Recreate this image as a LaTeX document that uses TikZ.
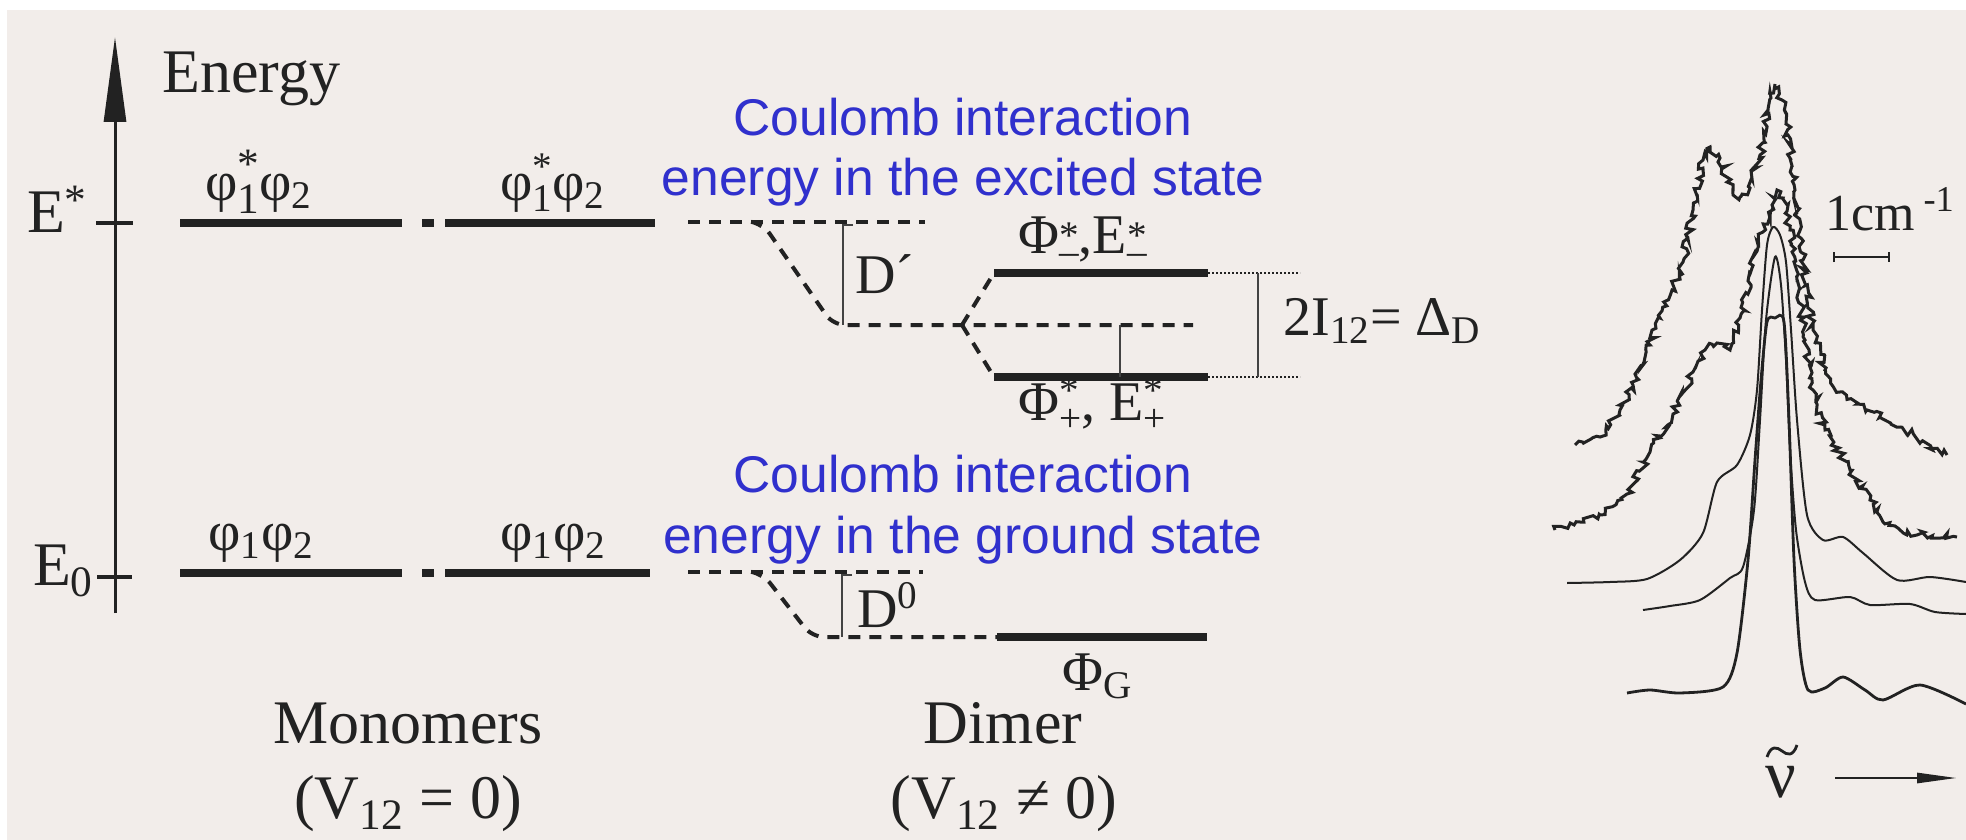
\documentclass[tikz,border=0pt]{standalone}
\usepackage{fontspec}
\setmainfont{Liberation Serif}
\newfontfamily\bluesans{Liberation Sans}
\usetikzlibrary{arrows.meta,decorations.pathmorphing}
\definecolor{bg}{HTML}{F2EDEA}
\definecolor{ink}{HTML}{222222}
\definecolor{annot}{RGB}{48,48,205}
\makeatletter
\newcommand\mysupsub[2]{{\fontsize\sf@size\z@\selectfont\raisebox{-0.3em}{\shortstack[l]{#1\\#2}}}}
\makeatother
\tikzset{
  lvl/.style={line width=4pt, draw=ink},
  dashlvl/.style={line width=2pt, draw=ink, dash pattern=on 6pt off 4.5pt},
  thinl/.style={line width=1.1pt, draw=ink!85},
  ext/.style={line width=0.9pt, draw=ink, dash pattern=on 1.2pt off 0.8pt},
  lbl/.style={inner sep=0pt, text=ink},
  big/.style={font=\fontsize{31}{37}\selectfont},
  mid/.style={font=\fontsize{28}{34}\selectfont},
  sml/.style={font=\fontsize{26}{31}\selectfont},
  note/.style={inner sep=0pt, text=annot, font=\bluesans\fontsize{25.8}{31}\selectfont},
  noisy/.style={line width=1.5pt, draw=ink, decorate, decoration={random steps, segment length=1.8pt, amplitude=2pt}},
  spec/.style={line width=1pt, draw=ink},
}
\begin{document}
\begin{tikzpicture}[x=0.5pt,y=-0.5pt]
\pgfmathsetseed{4242}
\useasboundingbox (0,0) rectangle (1966,840);
\fill[bg] (0,0) rectangle (1966,840);
\fill[white] (0,0) rectangle (1966,10);
\fill[white] (0,0) rectangle (7,840);

% energy axis
\coordinate (ax0) at (115,613);
\coordinate (ax1) at (115,37);
\draw[line width=1.5pt, draw=ink, -{Triangle[length=42.5pt,width=11pt]}] (ax0) -- (ax1);
\coordinate (tEa) at (96,223); \coordinate (tEb) at (133,223);
\coordinate (tGa) at (97,577); \coordinate (tGb) at (132,577);
\draw[line width=2pt, draw=ink] (tEa) -- (tEb);
\draw[line width=2pt, draw=ink] (tGa) -- (tGb);
\node[lbl, big, anchor=base east] (Estar) at (88,233) {E\textsuperscript{*}};
\node[lbl, big, anchor=base east] (Ezero) at (94,585) {E\textsubscript{0}};
\node[lbl, big, anchor=base west] (energy) at (162,93) {Energy};

% monomer levels, excited
\coordinate (e1a) at (180,223); \coordinate (e1b) at (402,223);
\coordinate (e1c) at (422,223); \coordinate (e1d) at (434,223);
\coordinate (e2a) at (445,223); \coordinate (e2b) at (655,223);
\draw[lvl] (e1a) -- (e1b);
\draw[lvl] (e1c) -- (e1d);
\draw[lvl] (e2a) -- (e2b);
\node[lbl, mid, anchor=base] (le1) at (259,200) {φ\mysupsub{*}{1}φ\textsubscript{2}};
\node[lbl, mid, anchor=base] (le2) at (553,200) {φ\mysupsub{*}{1}φ\textsubscript{2}};

% monomer levels, ground
\coordinate (g1a) at (180,573); \coordinate (g1b) at (402,573);
\coordinate (g1c) at (422,573); \coordinate (g1d) at (434,573);
\coordinate (g2a) at (445,573); \coordinate (g2b) at (650,573);
\draw[lvl] (g1a) -- (g1b);
\draw[lvl] (g1c) -- (g1d);
\draw[lvl] (g2a) -- (g2b);
\node[lbl, mid, anchor=base] (lg1) at (261,550) {φ\textsubscript{1}φ\textsubscript{2}};
\node[lbl, mid, anchor=base] (lg2) at (553,550) {φ\textsubscript{1}φ\textsubscript{2}};

% excited state dimer
\coordinate (xa) at (688,222); \coordinate (xb) at (925,222);
\coordinate (xk) at (752,222); \coordinate (xd) at (833,325);
\coordinate (xm) at (1193,325); \coordinate (xc) at (962,325);
\coordinate (up) at (994,273); \coordinate (upe) at (1208,273); \coordinate (upx) at (1300,273);
\coordinate (lo) at (994,377); \coordinate (loe) at (1208,377); \coordinate (lox) at (1300,377);
\draw[dashlvl] (xa) -- (xb);
\draw[dashlvl, rounded corners=6pt] (xk) -- (763,224) -- (xd) -- (xm);
\draw[dashlvl] (xc) -- (up);
\draw[dashlvl] (xc) -- (lo);
\draw[lvl] (up) -- (upe);
\draw[lvl] (lo) -- (loe);
\draw[ext] (upe) -- (upx);
\draw[ext] (loe) -- (lox);
\draw[thinl] (1258,273) -- (1258,377);
\draw[thinl] (1120,325) -- (1120,377);
\draw[thinl] (853,225) -- (843,225) -- (843,325);
\node[lbl, mid, anchor=base west] (Dp) at (855,293) {D´};
\node[lbl, mid, anchor=base west] (Pm) at (1018,253) {Φ\mysupsub{*}{–},E\mysupsub{*}{–}};
\node[lbl, mid, anchor=base west] (Pp) at (1018,420) {Φ\mysupsub{*}{+}, E\mysupsub{*}{+}};
\node[lbl, mid, anchor=base west] (split) at (1283,335) {2I\textsubscript{12}= Δ\textsubscript{D}};

% ground state dimer
\coordinate (ga) at (688,572); \coordinate (gb) at (923,572);
\coordinate (gk) at (752,572); \coordinate (gd) at (812,637);
\coordinate (gG) at (997,637); \coordinate (gGe) at (1207,637);
\draw[dashlvl] (ga) -- (gb);
\draw[dashlvl, rounded corners=6pt] (gk) -- (763,574) -- (gd) -- (gG);
\draw[lvl] (gG) -- (gGe);
\draw[thinl] (852,575) -- (842,575) -- (842,637);
\node[lbl, mid, anchor=base west] (D0) at (857,627) {D\textsuperscript{0}};
\node[lbl, mid, anchor=base west] (PG) at (1062,690) {Φ\textsubscript{G}};

% bottom captions
\node[lbl, big, anchor=base] (mono) at (408,743) {Monomers};
\node[lbl, big, anchor=base] (monov) at (408,818) {(V\textsubscript{12} = 0)};
\node[lbl, big, anchor=base] (dim) at (1003,743) {Dimer};
\node[lbl, big, anchor=base] (dimv) at (1004,818) {(V\textsubscript{12} ≠ 0)};

% blue annotations
\node[note, anchor=base] (c1) at (963,135) {Coulomb interaction};
\node[note, anchor=base] (c2) at (963,195) {energy in the excited state};
\node[note, anchor=base] (c3) at (963,492) {Coulomb interaction};
\node[note, anchor=base] (c4) at (963,553) {energy in the ground state};

% spectra
\draw[noisy] (1575,445) -- (1600,437) -- (1620,410) -- (1633,385) -- (1650,345) -- (1660,318) -- (1672,290) -- (1683,262) -- (1693,210) -- (1703,160) -- (1710,147) -- (1720,158) -- (1733,195) -- (1740,197) -- (1750,188) -- (1760,155) -- (1768,110) -- (1775,84) -- (1782,100) -- (1788,135) -- (1795,190) -- (1803,260) -- (1813,330) -- (1825,370) -- (1840,392) -- (1867,410) -- (1900,427) -- (1947,455);
\draw[noisy] (1555,530) -- (1580,522) -- (1600,515) -- (1627,494) -- (1650,452) -- (1673,414) -- (1693,372) -- (1705,350) -- (1717,343) -- (1730,350) -- (1740,318) -- (1752,268) -- (1763,232) -- (1772,205) -- (1777,190) -- (1783,198) -- (1790,230) -- (1797,280) -- (1805,340) -- (1813,390) -- (1825,430) -- (1850,470) -- (1870,500) -- (1883,522) -- (1917,535) -- (1957,537);
\draw[spec] plot[smooth, tension=0.45] coordinates {(1567,583) (1610,582) (1647,579) (1680,560) (1703,533) (1717,482) (1737,465) (1750,435) (1757,390) (1762,310) (1767,245) (1773,227) (1780,235) (1786,262) (1791,330) (1797,420) (1807,515) (1823,540) (1843,537) (1863,553) (1897,580) (1930,577) (1966,582)};
\draw[spec] plot[smooth, tension=0.45] coordinates {(1643,610) (1670,606) (1700,600) (1730,578) (1743,567) (1754,510) (1760,420) (1766,320) (1775,257) (1781,285) (1786,360) (1790,450) (1796,530) (1805,582) (1815,600) (1850,597) (1870,605) (1910,604) (1935,612) (1966,614)};
\draw[spec, line width=1.4pt] plot[smooth, tension=0.45] coordinates {(1627,693) (1650,690) (1680,693) (1723,687) (1737,653) (1748,560) (1755,460) (1761,380) (1767,322) (1775,318) (1784,322) (1789,420) (1794,560) (1800,650) (1808,690) (1825,688) (1843,677) (1865,690) (1883,700) (1920,685) (1966,704)};

\node[lbl, sml, anchor=base west] (cm) at (1825,230) {1cm\,\textsuperscript{-1}};
\coordinate (sb1) at (1833,257); \coordinate (sb2) at (1890,257);
\draw[line width=0.8pt, draw=ink, {Bar[width=5pt]}-{Bar[width=5pt]}] (sb1) -- (sb2);

\node[lbl, font=\fontsize{34}{40}\selectfont, anchor=base] (nu) at (1781,797) {ν};
\draw[line width=1.4pt, draw=ink] (1767,757) .. controls (1771,745) and (1777,747) .. (1782,751) .. controls (1787,755) and (1793,757) .. (1797,745);
\coordinate (na) at (1835,778); \coordinate (nb) at (1957,778);
\draw[line width=1.4pt, draw=ink, -{Triangle[length=20pt,width=5pt]}] (na) -- (nb);
\end{tikzpicture}
\end{document}
